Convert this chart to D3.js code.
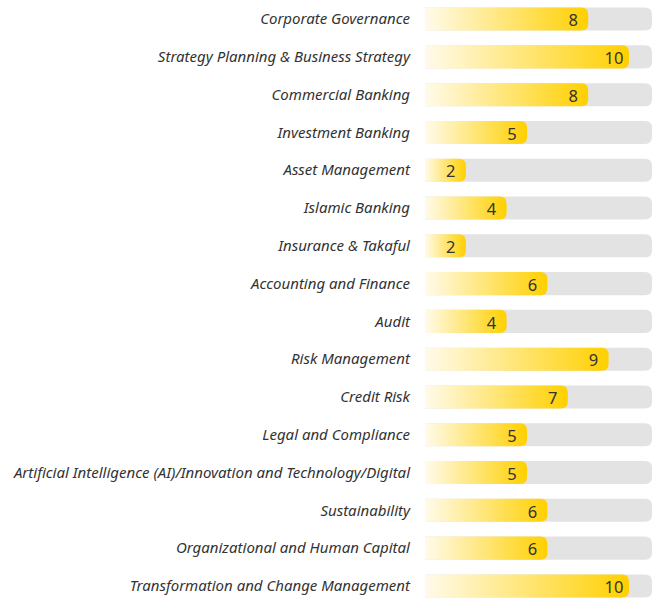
<!DOCTYPE html>
<html>
<head>
<meta charset="utf-8">
<script src="https://cdn.jsdelivr.net/npm/d3@7"></script>
<style>
  body { margin: 0; background: #fff; }
</style>
</head>
<body>
<div id="chart-area"></div>
<script>
// topics and how many of each
var categories = [
	"Corporate Governance",
	"Strategy Planning & Business Strategy",
	"Commercial Banking",
	"Investment Banking",
	"Asset Management",
	"Islamic Banking",
	"Insurance & Takaful",
	"Accounting and Finance",
	"Audit",
	"Risk Management",
	"Credit Risk",
	"Legal and Compliance",
	"Artificial Intelligence (AI)/Innovation and Technology/Digital",
	"Sustainability",
	"Organizational and Human Capital",
	"Transformation and Change Management"
];
var values = [8, 10, 8, 5, 2, 4, 2, 6, 4, 9, 7, 5, 5, 6, 6, 10];

var W = 661, H = 599;
var left = 425, trackW = 227;

var svg = d3.select("#chart-area")
	.append("svg")
		.attr("width", W)
		.attr("height", H);

var defs = svg.append("defs");

var y = d3.scaleBand()
	.domain(categories)
	.range([0, 605])
	.paddingInner(0.39)
	.paddingOuter(0.2);

var x = d3.scaleLinear()
	.domain([0, 10])
	.range([0, 204]);

// rect with only the right corners rounded
function rightRound(x0, y0, w, h, r) {
	r = Math.min(r, w, h / 2);
	return "M" + x0 + "," + y0 +
		"H" + (x0 + w - r) +
		"Q" + (x0 + w) + "," + y0 + " " + (x0 + w) + "," + (y0 + r) +
		"V" + (y0 + h - r) +
		"Q" + (x0 + w) + "," + (y0 + h) + " " + (x0 + w - r) + "," + (y0 + h) +
		"H" + x0 + "Z";
}

var rows = svg.selectAll(".row")
	.data(categories)
	.enter()
	.append("g")
		.attr("class", "row")
		.attr("transform", function(d){ return "translate(0," + y(d) + ")"; });

rows.append("text")
	.attr("x", 410)
	.attr("y", y.bandwidth() / 2)
	.attr("dy", "0.35em")
	.attr("text-anchor", "end")
	.attr("font-family", "'Noto Sans', sans-serif")
	.attr("font-style", "italic")
	.attr("font-size", "15px")
	.attr("fill", "#333")
	.text(function(d){ return d; });

rows.append("path")
	.attr("d", rightRound(left, 0, trackW, y.bandwidth(), 7))
	.attr("fill", "#e3e3e3");

rows.each(function(d, i){
	var w = x(values[i]);
	var gid = "grad" + i;
	var grad = defs.append("linearGradient")
		.attr("id", gid)
		.attr("gradientUnits", "userSpaceOnUse")
		.attr("x1", left).attr("x2", left + w)
		.attr("y1", 0).attr("y2", 0);
	grad.append("stop").attr("offset", "0%").attr("stop-color", "#fffbeb");
	grad.append("stop").attr("offset", "100%").attr("stop-color", "#ffd000");

	var g = d3.select(this);
	g.append("path")
		.attr("d", rightRound(left, 0, w, y.bandwidth(), 7))
		.attr("fill", "url(#" + gid + ")");

	g.append("text")
		.attr("x", left + w - 15)
		.attr("y", y.bandwidth() / 2 + 1)
		.attr("dy", "0.38em")
		.attr("text-anchor", "middle")
		.attr("font-family", "'Noto Sans', sans-serif")
		.attr("font-size", "16.5px")
		.attr("fill", "#333")
		.text(values[i]);
});
</script>
</body>
</html>
